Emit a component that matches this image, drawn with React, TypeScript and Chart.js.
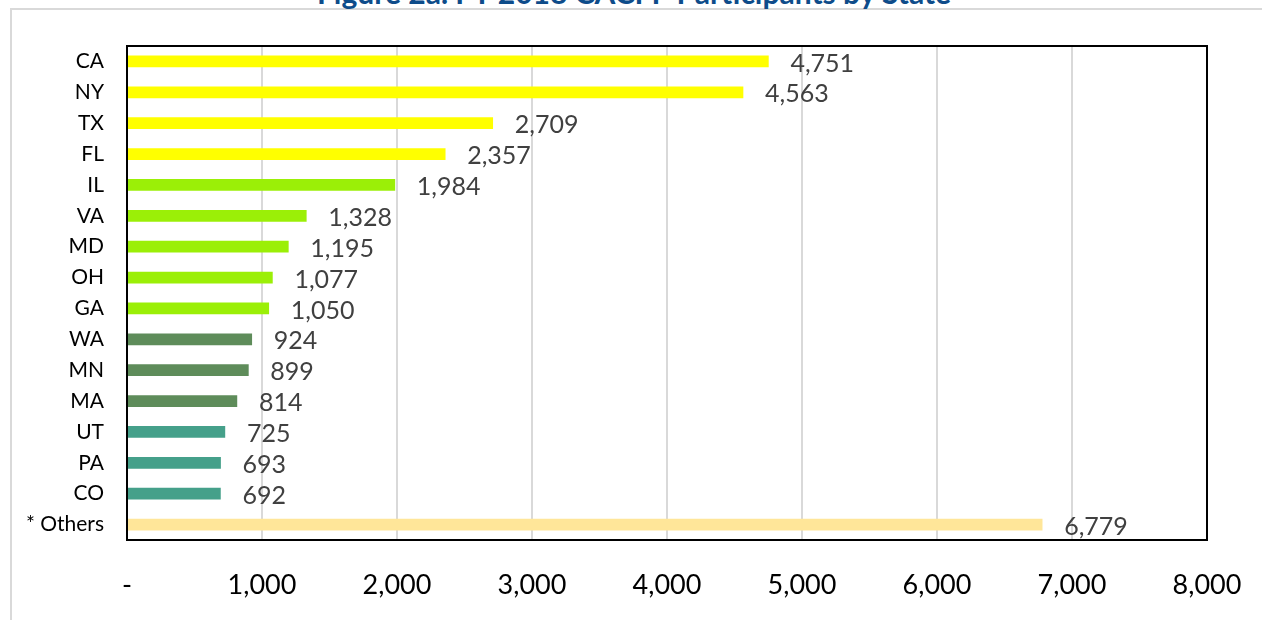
import React, { useEffect, useRef } from "react";
import { Chart, registerables } from "chart.js";

Chart.register(...registerables);

const TITLE = "Figure 2a. FY 2018 CACFP Participants by State";
const STATES = ["CA", "NY", "TX", "FL", "IL", "VA", "MD", "OH", "GA", "WA", "MN", "MA", "UT", "PA", "CO", "* Others"];
const PARTICIPANTS = [4751, 4563, 2709, 2357, 1984, 1328, 1195, 1077, 1050, 924, 899, 814, 725, 693, 692, 6779];
const BAR_COLORS = [
  "#FFFF00", "#FFFF00", "#FFFF00", "#FFFF00",
  "#9BEF07", "#9BEF07", "#9BEF07", "#9BEF07", "#9BEF07",
  "#5E8C5A", "#5E8C5A", "#5E8C5A",
  "#45A08A", "#45A08A", "#45A08A",
  "#FFE699",
];
const X_MIN = 0;
const X_MAX = 8000;
const X_STEP = 1000;

const FONT = "Lato, 'Noto Sans', sans-serif";

const fmt = (v: number) => v.toLocaleString("en-US");

const frameAndLabels = {
  id: "frameAndLabels",
  afterDatasetsDraw(chart: any) {
    const { ctx, chartArea } = chart;
    ctx.save();
    ctx.strokeStyle = "#000000";
    ctx.lineWidth = 2;
    ctx.strokeRect(chartArea.left, chartArea.top, chartArea.right - chartArea.left, chartArea.bottom - chartArea.top);
    const meta = chart.getDatasetMeta(0);
    ctx.fillStyle = "#404040";
    ctx.font = `25px ${FONT}`;
    ctx.textAlign = "left";
    ctx.textBaseline = "middle";
    meta.data.forEach((bar: any, i: number) => {
      ctx.fillText(fmt(PARTICIPANTS[i]), bar.x + 22, bar.y + 2);
    });
    ctx.restore();
  },
};

export default function App() {
  const ref = useRef<HTMLCanvasElement | null>(null);

  useEffect(() => {
    document.body.style.margin = "0";
    const canvas = ref.current;
    if (!canvas) return;
    const chart = new Chart(canvas, {
      type: "bar",
      data: {
        labels: STATES,
        datasets: [
          {
            data: PARTICIPANTS,
            backgroundColor: BAR_COLORS,
            barThickness: 11,
            borderWidth: 0,
          },
        ],
      },
      options: {
        indexAxis: "y",
        animation: false,
        responsive: false,
        maintainAspectRatio: false,
        devicePixelRatio: 1,
        layout: { padding: { top: 46, right: 55, left: 0, bottom: 0 } },
        plugins: {
          legend: { display: false },
          title: { display: false },
          tooltip: { enabled: false },
        },
        scales: {
          x: {
            min: X_MIN,
            max: X_MAX,
            ticks: {
              stepSize: X_STEP,
              padding: 29,
              color: "#000000",
              font: { family: FONT, size: 27 },
              callback: (v: any) => (Number(v) === 0 ? "-" : fmt(Number(v))),
            },
            grid: { color: "#D9D9D9", lineWidth: 2, drawTicks: false },
            border: { display: false },
            afterFit: (s: any) => {
              s.height = 80;
              s.paddingLeft = 0;
              s.paddingRight = 0;
            },
          },
          y: {
            ticks: {
              padding: 23,
              color: "#000000",
              font: { family: FONT, size: 21 },
            },
            grid: { display: false, drawTicks: false },
            border: { display: false },
            afterFit: (s: any) => {
              s.width = 127;
              s.paddingTop = 0;
              s.paddingBottom = 0;
            },
          },
        },
      },
      plugins: [frameAndLabels],
    });
    return () => chart.destroy();
  }, []);

  return (
    <div style={{ position: "relative", width: 1262, height: 620, overflow: "hidden", background: "#fff" }}>
      <div
        style={{
          position: "absolute",
          left: 10,
          top: 8,
          width: 1262,
          height: 620,
          borderLeft: "2px solid #D9D9D9",
          borderTop: "2px solid #D9D9D9",
        }}
      />
      <div
        style={{
          position: "absolute",
          left: 0,
          width: 1268,
          top: -23,
          textAlign: "center",
          fontFamily: FONT,
          fontWeight: 700,
          fontSize: 30,
          lineHeight: "30px",
          color: "#0E4C8A",
          whiteSpace: "nowrap",
        }}
      >
        {TITLE}
      </div>
      <canvas ref={ref} width={1262} height={620} style={{ position: "absolute", left: 0, top: 0 }} />
    </div>
  );
}
